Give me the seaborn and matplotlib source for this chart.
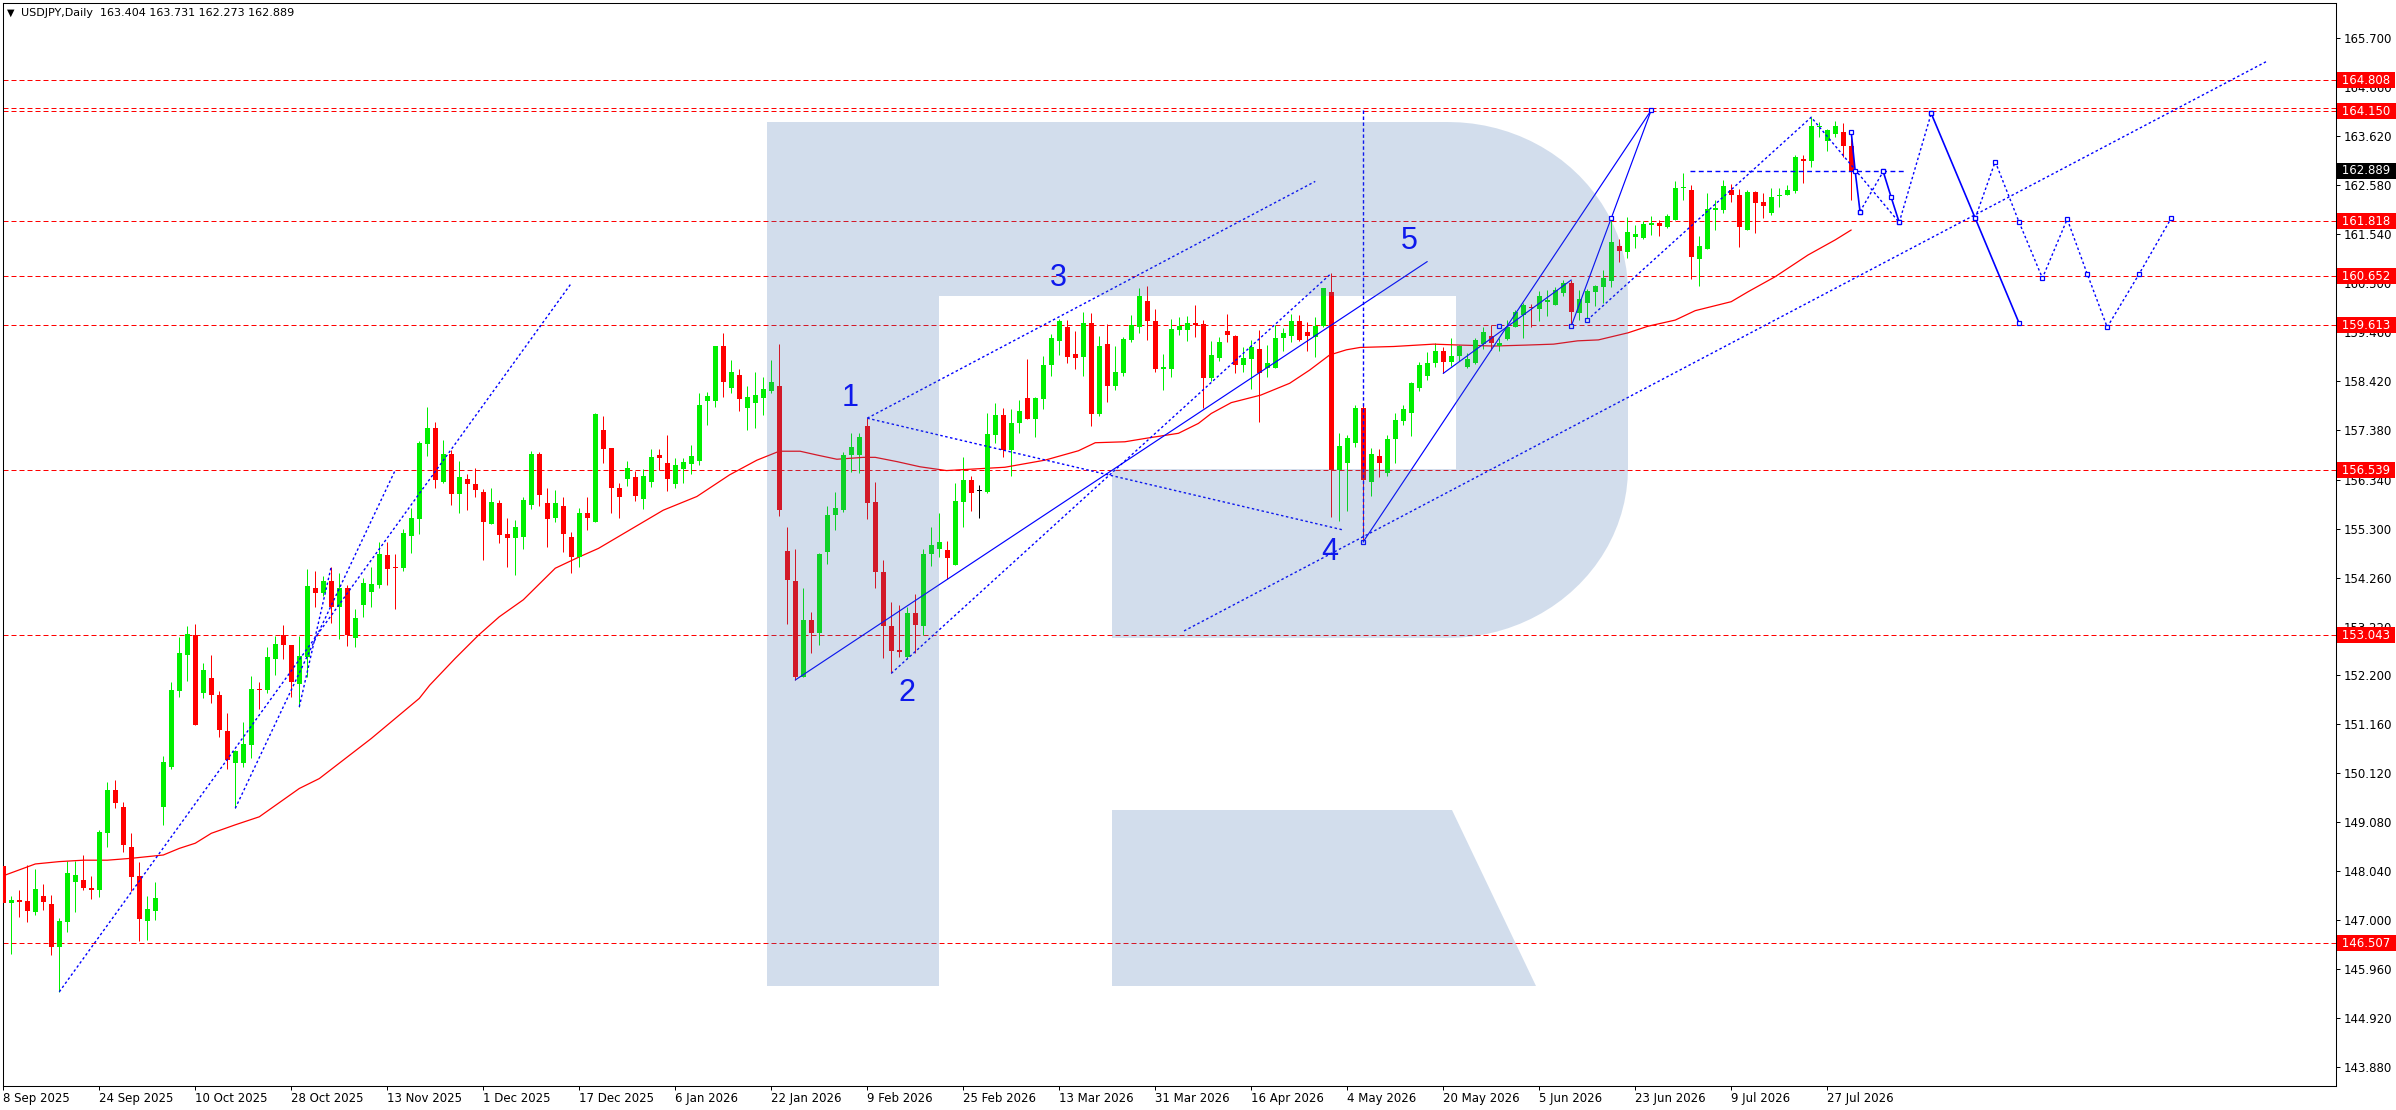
import numpy as np
import pandas as pd
import matplotlib
matplotlib.use('Agg')
import matplotlib.pyplot as plt
import matplotlib.transforms as mtransforms
from matplotlib.patches import Polygon
import seaborn as sns

## ============================ daily candles, 8 Sep 2025 - 30 Jul 2026

opens = [148.15, 147.37, 147.43, 147.41, 147.18, 147.51, 147.34, 146.44, 146.97, 147.81,
		147.86, 147.67, 147.64, 148.85, 149.76, 149.40, 148.56, 147.93, 146.99, 147.20,
		149.40, 150.25, 151.86, 152.63, 153.04, 151.82, 152.13, 151.78, 151.01, 150.34,
		150.34, 150.71, 151.89, 151.88, 152.54, 153.04, 152.83, 152.01, 152.58, 154.03,
		153.94, 154.19, 153.64, 154.05, 152.99, 153.67, 153.96, 154.10, 154.74, 154.49,
		154.46, 155.14, 155.50, 157.09, 157.43, 156.29, 156.88, 156.04, 156.35, 156.24,
		156.08, 155.40, 155.84, 155.19, 155.09, 155.13, 155.80, 156.88, 155.84, 155.53,
		155.78, 155.12, 154.70, 155.62, 155.43, 157.40, 157.01, 156.16, 156.36, 156.40,
		155.93, 156.29, 156.86, 156.68, 156.24, 156.56, 156.67, 156.74, 158.01, 158.01,
		159.16, 158.27, 158.56, 157.86, 157.97, 158.07, 158.22, 158.32, 154.83, 154.18,
		152.16, 153.36, 153.08, 154.81, 155.59, 155.69, 156.85, 156.86, 157.47, 155.86,
		154.37, 153.23, 152.73, 152.57, 153.50, 153.23, 154.76, 154.87, 154.85, 154.52,
		155.87, 156.33, 156.10, 156.08, 157.29, 157.71, 156.97, 157.53, 158.07, 157.62,
		158.05, 158.77, 159.28, 159.57, 159.00, 158.94, 159.66, 157.73, 159.21, 158.33,
		158.60, 159.30, 159.58, 160.12, 159.70, 158.69, 158.68, 159.51, 159.51, 159.66,
		159.64, 158.50, 158.92, 159.49, 159.38, 158.77, 158.90, 159.11, 158.70, 158.70,
		159.34, 159.39, 159.70, 159.46, 159.37, 159.59, 160.32, 156.54, 156.68, 157.12,
		157.85, 156.29, 156.84, 156.47, 157.19, 157.59, 157.74, 158.27, 158.54, 158.80,
		159.07, 158.84, 158.95, 158.73, 158.82, 159.21, 159.39, 159.17, 159.32, 159.58,
		159.83, 160.00, 159.95, 160.11, 160.05, 160.29, 160.51, 159.86, 160.09, 160.32,
		160.43, 160.55, 161.29, 161.17, 161.49, 161.45, 161.74, 161.78, 161.69, 161.85,
		162.53, 162.48, 161.01, 161.23, 162.07, 162.05, 162.48, 162.37, 161.63, 162.43,
		162.22, 161.99, 162.35, 162.37, 162.46, 163.14, 163.10, 163.81, 163.52, 163.66,
		163.70, 163.404]

highs = [148.57, 147.51, 147.64, 148.17, 148.08, 147.77, 147.53, 147.04, 148.26, 148.26,
		148.38, 147.94, 148.90, 149.93, 149.96, 149.50, 148.85, 148.24, 147.51, 147.81,
		150.48, 152.05, 153.01, 153.23, 153.28, 152.46, 152.62, 151.86, 151.40, 150.61,
		151.20, 152.18, 152.05, 152.79, 153.02, 153.26, 152.83, 153.02, 154.44, 154.40,
		154.30, 154.48, 154.35, 154.10, 153.59, 154.25, 154.48, 155.02, 155.01, 154.76,
		155.29, 155.74, 157.16, 157.88, 157.55, 157.18, 156.97, 156.73, 156.46, 156.58,
		156.13, 156.16, 155.91, 155.53, 155.48, 155.98, 156.95, 156.92, 156.15, 156.12,
		155.98, 155.23, 155.74, 155.98, 157.76, 157.69, 157.01, 156.26, 156.73, 156.53,
		156.56, 156.99, 156.99, 157.28, 156.80, 156.79, 157.07, 158.17, 158.20, 159.18,
		159.45, 158.87, 158.68, 158.32, 158.61, 158.52, 158.87, 159.21, 155.33, 154.86,
		154.05, 153.53, 154.79, 155.78, 156.07, 156.92, 157.33, 157.33, 157.64, 156.29,
		154.63, 153.74, 153.67, 153.63, 153.91, 154.87, 155.33, 155.64, 155.04, 156.27,
		156.81, 156.42, 156.22, 157.74, 157.96, 157.85, 157.83, 158.03, 158.89, 158.10,
		158.96, 159.43, 159.74, 159.72, 159.49, 159.89, 159.86, 159.38, 159.64, 159.17,
		159.37, 159.83, 160.41, 160.45, 159.95, 159.00, 159.74, 159.79, 159.81, 160.03,
		159.72, 159.28, 159.37, 159.85, 159.40, 159.14, 159.30, 159.51, 159.19, 159.62,
		159.55, 159.84, 159.82, 159.67, 159.78, 160.41, 160.71, 157.33, 157.28, 157.91,
		157.91, 157.00, 156.98, 157.28, 157.74, 157.93, 158.41, 158.84, 159.05, 159.24,
		159.14, 159.33, 159.19, 159.02, 159.35, 159.57, 159.62, 159.33, 159.72, 159.93,
		160.08, 160.06, 160.34, 160.36, 160.43, 160.56, 160.57, 160.36, 160.38, 160.46,
		160.78, 161.88, 161.44, 161.91, 161.74, 161.82, 161.93, 161.84, 161.96, 162.67,
		162.83, 162.58, 161.50, 162.41, 162.27, 162.69, 162.60, 162.49, 162.48, 162.46,
		162.41, 162.53, 162.51, 162.58, 163.22, 163.22, 164.02, 163.91, 163.78, 163.94,
		163.90, 163.731]

lows = [147.32, 146.28, 147.07, 146.97, 147.11, 147.21, 146.26, 145.48, 146.75, 147.18,
		147.64, 147.44, 147.50, 148.54, 149.38, 148.45, 147.62, 146.56, 146.58, 147.00,
		149.02, 150.20, 151.72, 152.07, 151.14, 151.70, 151.60, 150.89, 150.20, 149.37,
		150.25, 150.44, 151.48, 151.81, 152.20, 152.53, 151.74, 151.52, 152.15, 153.64,
		153.87, 153.29, 152.95, 152.82, 152.80, 153.42, 153.64, 154.03, 154.10, 153.60,
		154.41, 154.79, 155.19, 156.84, 156.17, 156.26, 155.79, 155.64, 155.69, 155.96,
		154.63, 155.40, 155.00, 154.49, 154.32, 154.87, 155.72, 155.77, 154.92, 155.43,
		154.81, 154.36, 154.49, 155.26, 155.43, 156.68, 155.64, 155.53, 156.20, 155.89,
		155.71, 156.18, 156.54, 156.10, 156.15, 156.26, 156.45, 156.65, 157.50, 157.88,
		158.08, 158.18, 157.80, 157.39, 157.44, 157.71, 158.17, 155.57, 153.28, 152.09,
		152.15, 152.67, 152.83, 154.54, 155.27, 155.66, 156.51, 156.47, 155.50, 154.03,
		152.55, 152.23, 152.58, 152.54, 152.67, 153.04, 154.51, 154.69, 154.24, 154.52,
		155.33, 155.68, 155.52, 156.05, 157.12, 156.82, 156.42, 157.33, 157.62, 157.25,
		157.84, 158.54, 158.98, 158.82, 158.68, 158.54, 157.48, 157.69, 157.99, 158.24,
		158.54, 159.26, 159.44, 159.30, 158.63, 158.24, 158.51, 159.40, 159.28, 159.37,
		157.86, 158.43, 158.85, 159.26, 158.59, 158.62, 158.25, 157.57, 158.52, 158.70,
		159.07, 159.26, 159.28, 159.07, 158.94, 159.57, 155.54, 155.47, 155.68, 157.04,
		155.02, 155.99, 156.40, 156.41, 156.70, 157.50, 157.27, 158.22, 158.45, 158.73,
		158.59, 158.75, 158.86, 158.70, 158.79, 159.11, 159.09, 159.07, 159.30, 159.57,
		159.35, 159.57, 159.69, 159.81, 160.03, 160.22, 159.57, 159.72, 159.72, 160.02,
		160.09, 160.43, 160.96, 161.04, 161.25, 161.44, 161.52, 161.51, 161.67, 161.84,
		162.27, 160.60, 160.44, 161.23, 161.64, 161.99, 162.22, 161.26, 161.63, 161.57,
		161.88, 161.95, 162.11, 162.37, 162.41, 162.63, 162.97, 163.61, 163.31, 163.61,
		163.18, 162.273]

closes = [147.36, 147.43, 147.39, 147.20, 147.65, 147.39, 146.44, 146.98, 147.99, 147.96,
		147.69, 147.64, 148.86, 149.76, 149.49, 148.59, 147.92, 147.02, 147.24, 147.47,
		150.35, 151.88, 152.66, 153.07, 151.14, 152.30, 151.78, 151.04, 150.39, 150.58,
		150.73, 151.90, 151.88, 152.58, 152.85, 152.83, 152.05, 152.60, 154.08, 153.94,
		154.19, 153.64, 154.05, 153.04, 153.40, 154.14, 154.12, 154.76, 154.44, 154.47,
		155.21, 155.52, 157.12, 157.43, 156.32, 156.88, 156.04, 156.39, 156.25, 156.12,
		155.44, 155.86, 155.17, 155.09, 155.33, 155.91, 156.88, 156.02, 155.51, 155.84,
		155.19, 154.70, 155.63, 155.53, 157.73, 156.99, 156.17, 155.96, 156.58, 156.00,
		156.42, 156.82, 156.80, 156.36, 156.65, 156.71, 156.84, 157.92, 158.11, 159.16,
		158.41, 158.62, 158.05, 158.08, 158.13, 158.26, 158.41, 155.69, 154.20, 152.16,
		153.36, 153.08, 154.76, 155.59, 155.73, 156.86, 157.03, 157.24, 155.85, 154.39,
		153.24, 152.70, 152.68, 153.50, 153.26, 154.77, 154.95, 155.02, 154.68, 155.89,
		156.33, 156.06, 156.10, 157.31, 157.71, 156.97, 157.53, 157.79, 157.62, 158.07,
		158.77, 159.34, 159.70, 158.94, 158.92, 159.66, 157.73, 159.17, 158.33, 158.63,
		159.32, 159.61, 160.23, 159.69, 158.68, 158.72, 159.53, 159.60, 159.66, 159.62,
		158.50, 158.98, 159.26, 159.40, 158.77, 158.92, 159.14, 158.59, 158.80, 159.35,
		159.44, 159.70, 159.30, 159.39, 159.59, 160.40, 156.54, 157.05, 157.22, 157.85,
		156.33, 156.89, 156.68, 157.19, 157.60, 157.83, 158.39, 158.77, 158.80, 159.07,
		158.84, 158.96, 159.17, 158.89, 159.30, 159.47, 159.23, 159.23, 159.58, 159.89,
		160.04, 159.98, 160.23, 160.15, 160.36, 160.51, 159.90, 160.16, 160.34, 160.44,
		160.61, 161.38, 161.19, 161.59, 161.55, 161.76, 161.78, 161.72, 161.93, 162.53,
		162.55, 161.06, 161.30, 162.07, 162.08, 162.56, 162.37, 161.70, 162.44, 162.21,
		162.13, 162.32, 162.37, 162.48, 163.17, 163.10, 163.83, 163.83, 163.74, 163.83,
		163.40, 162.889]

# moving average, read at points along the line
ma_bars = [0, 4, 7, 10, 13, 16, 20, 22, 24, 26, 29, 32, 35, 37, 39.5, 46, 52, 53.3, 56.5, 59.4,
		62, 65, 69, 72, 74.4, 78.3, 82.5, 86.7, 90.8, 94.2, 97, 99.6, 101.7, 104.2, 107.5, 109,
		111.7, 114.6, 117.9, 125.2, 130.2, 134.4, 136.5, 140.2, 142.7, 146.9, 149.4, 151, 153.5,
		157.2, 160.8, 163.3, 165.8, 167.9, 169.6, 173.8, 178.8, 182.1, 186.3, 190.4, 193.8,
		196.8, 199.4, 203.1, 205.6, 209, 211.5, 216, 218.1, 221.5, 225.6, 229, 231]
ma_vals = [147.94, 148.19, 148.24, 148.27, 148.27, 148.31, 148.38, 148.52, 148.63, 148.84,
		149.02, 149.19, 149.55, 149.79, 150.00, 150.85, 151.70, 151.98, 152.55, 153.04,
		153.43, 153.79, 154.46, 154.70, 154.88, 155.27, 155.69, 155.98, 156.44, 156.75,
		156.94, 156.94, 156.86, 156.77, 156.81, 156.81, 156.72, 156.61, 156.53, 156.60,
		156.75, 156.95, 157.12, 157.14, 157.21, 157.32, 157.53, 157.74, 157.97, 158.13,
		158.38, 158.66, 158.98, 159.09, 159.14, 159.16, 159.21, 159.19, 159.17, 159.19,
		159.21, 159.28, 159.30, 159.45, 159.59, 159.72, 159.92, 160.11, 160.32, 160.64,
		161.10, 161.42, 161.63]

date_ticks = list(range(0, 240, 12))
date_labels = ['8 Sep 2025', '24 Sep 2025', '10 Oct 2025', '28 Oct 2025', '13 Nov 2025',
		'1 Dec 2025', '17 Dec 2025', '6 Jan 2026', '22 Jan 2026', '9 Feb 2026', '25 Feb 2026',
		'13 Mar 2026', '31 Mar 2026', '16 Apr 2026', '4 May 2026', '20 May 2026', '5 Jun 2026',
		'23 Jun 2026', '9 Jul 2026', '27 Jul 2026']

price_ticks = [165.700, 164.660, 163.620, 162.580, 161.540, 160.500, 159.460, 158.420, 157.380,
		156.340, 155.300, 154.260, 153.220, 152.200, 151.160, 150.120, 149.080, 148.040,
		147.000, 145.960, 144.920, 143.880]

levels = [164.808, 164.150, 161.818, 160.652, 159.613, 156.539, 153.043, 146.507]
level_extra = 164.21

# analyst drawings (bar, price)
dotted_lines = [
	[(7, 145.48), (71, 160.50)],
	[(29, 149.37), (49, 156.54)],
	[(37, 151.52), (41, 154.50)],
	[(108, 157.64), (164, 162.66)],
	[(108, 157.64), (167.5, 155.27)],
	[(111, 152.23), (166, 160.71)],
	[(147.6, 153.13), (283, 165.21)],
	[(198, 159.72), (226, 164.02), (237, 161.79)],
]
solid_lines = [
	[(99, 152.09), (178, 160.96)],
	[(170, 155.02), (206, 164.17)],
	[(180, 158.59), (196, 160.57)],
]
wave_solid = [(196, 159.59), (201, 161.88), (206, 164.17)]
wave_marks = [(187, 159.59), (198, 159.72), (170, 155.02)]
vertical_line = [(170, 164.17), (170, 155.02)]
flat_line = [(210.8, 162.87), (237.9, 162.87)]

forecast_solid = [
	[(231, 163.71), (231.5, 162.87), (232.1, 162.02)],
	[(235, 162.87), (236, 162.32), (237, 161.79)],
	[(241, 164.10), (246.5, 161.88), (252, 159.65)],
]
forecast_dotted = [
	[(232.1, 162.02), (235, 162.87)],
	[(237, 161.79), (241, 164.10)],
	[(246.5, 161.88), (249, 163.08), (252, 161.79), (254.9, 160.61), (258, 161.86),
		(260.5, 160.70), (263, 159.57), (267, 160.70), (271, 161.88)],
]

wave_labels = ['1', '2', '3', '4', '5']
wave_label_bars = [105.8, 113, 131.9, 165.8, 175.8]
wave_label_prices = [158.07, 151.81, 160.61, 154.81, 161.40]

## ============================

sns.set_style('white')
plt.rcParams['font.family'] = ['DejaVu Sans']
plt.rcParams['axes.edgecolor'] = 'black'
plt.rcParams['axes.linewidth'] = 0.75

GREEN = '#00ee00'
RED = '#ff0000'
BLUE = '#0000ff'
PX = 0.72  # one pixel in points at dpi 100

df = pd.DataFrame({'o': opens, 'h': highs, 'l': lows, 'c': closes})
df['bar'] = np.arange(len(df))
df['color'] = np.where(df['c'] > df['o'], GREEN, np.where(df['c'] < df['o'], RED, 'black'))
df['body'] = np.maximum((df['c'] - df['o']).abs(), 0.022)
df['bottom'] = (df['c'] + df['o']) / 2. - df['body'] / 2.

fig = plt.figure(figsize=(23.96, 11.10), dpi=100)
ax = fig.add_axes([2.7/2396, 24/1110, (2336-2.7)/2396, (1086-3)/1110])

for lvl in levels + [level_extra]:
	ax.axhline(lvl, color=RED, linewidth=PX, linestyle=(0, (5, 3)), zorder=1)

ax.vlines(df['bar'], df['l'], df['h'], colors=df['color'], linewidth=PX, zorder=2)
ax.bar(df['bar'], df['body'], bottom=df['bottom'], width=0.625, color=df['color'],
		linewidth=0, zorder=3)

sns.lineplot(x=ma_bars, y=ma_vals, ax=ax, color=RED, linewidth=0.9, sort=False,
		estimator=None, zorder=2.5)

def draw_path(pts, ls, lw=PX, marks=False):
	xs = [p[0] for p in pts]
	ys = [p[1] for p in pts]
	ax.plot(xs, ys, color=BLUE, linewidth=lw, linestyle=ls, zorder=4,
			marker='s' if marks else None, markersize=3.4, markerfacecolor='white',
			markeredgecolor=BLUE, markeredgewidth=0.9)

DOT = (0, (1.8, 1.8))
for pts in dotted_lines:
	draw_path(pts, DOT, lw=1.0)
for pts in solid_lines:
	draw_path(pts, '-', lw=0.85)
draw_path(wave_solid, '-', lw=0.85, marks=True)
ax.plot([p[0] for p in wave_marks], [p[1] for p in wave_marks], 's', markersize=3.4,
		markerfacecolor='white', markeredgecolor=BLUE, markeredgewidth=0.9, zorder=4)
draw_path(vertical_line, (0, (2.5, 1.8)), lw=1.0)
draw_path(flat_line, (0, (3.5, 2.5)), lw=1.0)
for pts in forecast_solid:
	draw_path(pts, '-', lw=1.2, marks=True)
for pts in forecast_dotted:
	draw_path(pts, DOT, lw=1.0, marks=True)

for t, xb, yp in zip(wave_labels, wave_label_bars, wave_label_prices):
	ax.text(xb, yp, t, color=BLUE, fontsize=22, family=['Liberation Sans', 'DejaVu Sans'],
			ha='center', va='center', zorder=5)

ax.set_xlim(-0.075, 291.6)
ax.set_ylim(143.483, 166.442)

ax.set_yticks(price_ticks)
ax.set_yticklabels(['{0:.3f}'.format(v) for v in price_ticks])
ax.yaxis.tick_right()
ax.tick_params(axis='y', which='both', right=True, left=False, labelright=True,
		labelleft=False, length=2.9, width=PX, pad=2.6, labelsize=8.5, direction='out',
		colors='black')
ax.set_xticks(date_ticks)
ax.set_xticklabels(date_labels)
ax.tick_params(axis='x', bottom=True, length=2.9, width=PX, pad=1.2, labelsize=8.5,
		direction='out', colors='black')
for lab in ax.get_xticklabels():
	lab.set_horizontalalignment('left')
ax.set_xlabel('')
ax.set_ylabel('')
ax.grid(False)

blend = mtransforms.blended_transform_factory(ax.transAxes, ax.transData)
for lvl in levels:
	ax.text(1.0009, lvl, ' {0:.3f} '.format(lvl), transform=blend, ha='left', va='center',
			fontsize=8.5, color='white', zorder=6,
			bbox=dict(boxstyle='square,pad=0.12', fc=RED, ec='none'))
ax.text(1.0009, closes[-1], ' {0:.3f} '.format(closes[-1]), transform=blend, ha='left',
		va='center', fontsize=8.5, color='white', zorder=6,
		bbox=dict(boxstyle='square,pad=0.12', fc='black', ec='none'))

## ============================ watermark logo, in pixel coordinates

def corner(cx, cy, rx, ry, a0, a1, n=24):
	a = np.radians(np.linspace(a0, a1, n))
	return list(zip(cx + rx * np.cos(a), cy + ry * np.sin(a)))

outline = [(767, 986), (767, 122), (1448, 122)] + corner(1448, 292, 180, 170, -90, 0) + \
		[(1628, 468)] + corner(1448, 468, 180, 170, 0, 90) + \
		[(1112, 638), (1112, 469), (1456, 469), (1456, 296), (939, 296), (939, 986)]
leg = [(1112, 810), (1452, 810), (1536, 986), (1112, 986)]

pix = mtransforms.Affine2D().scale(1, -1).translate(0, 1110)
for shape in [outline, leg]:
	fig.add_artist(Polygon(shape, closed=True, transform=pix, facecolor='#3e6eb0',
			edgecolor='none', alpha=0.23, zorder=5))

## ============================ header

fig.text(7/2396, 1 - 13/1110, '\u25bc', fontsize=7, va='center', ha='left', color='black')
fig.text(21/2396, 1 - 13/1110, 'USDJPY,Daily  {0:.3f} {1:.3f} {2:.3f} {3:.3f}'.format(
		opens[-1], highs[-1], lows[-1], closes[-1]), fontsize=8, va='center', ha='left',
		color='black')

fig.savefig('out.png', dpi=100)
